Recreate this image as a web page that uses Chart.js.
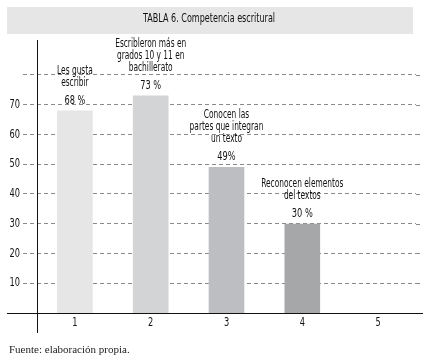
<!DOCTYPE html>
<html>
<head>
<meta charset="utf-8">
<script src="https://cdn.jsdelivr.net/npm/chart.js@4/dist/chart.umd.min.js"></script>
<style>
  html, body { margin: 0; padding: 0; background: #fff; }
  #wrap { width: 433px; height: 359px; }
</style>
</head>
<body>
<div id="wrap"><canvas id="chart" width="433" height="359"></canvas></div>
<script>
const categories = ['1', '2', '3', '4', '5']
const percentages = [68, 73, 49, 30, null]
const valueLabels = ['68 %', '73 %', '49%', '30 %', '']
const barTexts = [
  ['Les gusta', 'escribir'],
  ['Escribleron más en', 'grados 10 y 11 en', 'bachillerato'],
  ['Conocen las', 'partes que integran', 'un texto'],
  ['Reconocen elementos', 'del textos'],
  []
]
const yTickLabels = [10, 20, 30, 40, 50, 60, 70]
const gridValues = [10, 20, 30, 40, 50, 60, 70, 80]
const barColors = ['#e6e6e6', '#d3d4d6', '#bdbec1', '#a6a7a9', '#a6a7a9']
const titleText = 'TABLA 6. Competencia escritural'
const sourceText = 'Fuente: elaboración propia.'

const sans = '"DejaVu Sans", sans-serif'

// draws text squeezed horizontally, to imitate the condensed typeface
function narrowText(ctx, text, x, y, size, squeeze, align) {
  ctx.save()
  ctx.font = size + 'px ' + sans
  ctx.textAlign = align || 'center'
  ctx.textBaseline = 'middle'
  ctx.translate(x, y)
  ctx.scale(squeeze, 1)
  ctx.fillText(text, 0, 0)
  ctx.restore()
}

const decorations = {
  id: 'decorations',
  beforeDraw(chart) {
    const ctx = chart.ctx
    ctx.save()
    ctx.fillStyle = '#fff'
    ctx.fillRect(0, 0, chart.width, chart.height)
    ctx.fillStyle = '#e6e6e6'
    ctx.fillRect(7, 7, 406, 27)
    ctx.fillStyle = '#111'
    narrowText(ctx, titleText, 209, 19, 13, 0.62)
    ctx.restore()
  },
  afterDraw(chart) {
    const ctx = chart.ctx
    const area = chart.chartArea
    const y = chart.scales.y
    const x = chart.scales.x
    ctx.save()
    // extend grid lines to the right
    ctx.strokeStyle = '#8a8a8a'
    ctx.lineWidth = 1
    ctx.setLineDash([4, 3])
    gridValues.forEach(v => {
      const py = Math.round(y.getPixelForValue(v)) + 0.5
      ctx.beginPath()
      ctx.moveTo(area.right, py)
      ctx.lineTo(423, py)
      ctx.stroke()
    })
    ctx.setLineDash([])
    // baseline and y axis
    const base = Math.round(y.getPixelForValue(0)) + 0.5
    ctx.strokeStyle = '#111'
    ctx.beginPath()
    ctx.moveTo(7, base)
    ctx.lineTo(423, base)
    ctx.stroke()
    ctx.beginPath()
    ctx.moveTo(area.left + 0.5, 40)
    ctx.lineTo(area.left + 0.5, 333)
    ctx.stroke()

    ctx.fillStyle = '#111'
    // tick labels
    yTickLabels.forEach(v => {
      narrowText(ctx, String(v), 20, y.getPixelForValue(v), 12.5, 0.66, 'right')
    })
    categories.forEach((c, i) => {
      narrowText(ctx, c, x.getPixelForValue(i), 323, 12.5, 0.66)
    })

    // bar annotations
    const meta = chart.getDatasetMeta(0)
    meta.data.forEach((bar, i) => {
      if (percentages[i] == null) return
      const vy = bar.y - 10
      narrowText(ctx, valueLabels[i], bar.x, vy, 12.5, 0.66)
      const lines = barTexts[i]
      lines.forEach((line, j) => {
        const ly = vy - 18 - (lines.length - 1 - j) * 12
        narrowText(ctx, line, bar.x, ly, 12, 0.62)
      })
    })

    // source
    ctx.font = '11px "Liberation Serif", "DejaVu Serif", serif'
    ctx.textAlign = 'left'
    ctx.textBaseline = 'middle'
    ctx.fillStyle = '#222'
    ctx.fillText(sourceText, 9, 350)
    ctx.restore()
  }
}

new Chart(document.getElementById('chart').getContext('2d'), {
  type: 'bar',
  data: {
    labels: categories,
    datasets: [{
      data: percentages,
      backgroundColor: barColors,
      borderWidth: 0,
      barPercentage: 0.47,
      categoryPercentage: 1
    }]
  },
  options: {
    responsive: false,
    animation: false,
    layout: { padding: { top: 39, right: 17, left: 0, bottom: 0 } },
    plugins: {
      legend: { display: false },
      tooltip: { enabled: false }
    },
    scales: {
      x: {
        grid: { display: false, drawTicks: false },
        border: { display: false },
        ticks: { display: false },
        afterFit(scale) { scale.height = 46 }
      },
      y: {
        min: 0,
        max: 92,
        afterBuildTicks(scale) {
          scale.ticks = gridValues.map(v => ({ value: v }))
        },
        grid: {
          color: '#8a8a8a',
          tickLength: 14,
          tickColor: '#8a8a8a',
          tickBorderDash: [4, 3]
        },
        border: { display: false, dash: [4, 3] },
        ticks: { display: false },
        afterFit(scale) { scale.width = 37 }
      }
    }
  },
  plugins: [decorations]
})
</script>
</body>
</html>
